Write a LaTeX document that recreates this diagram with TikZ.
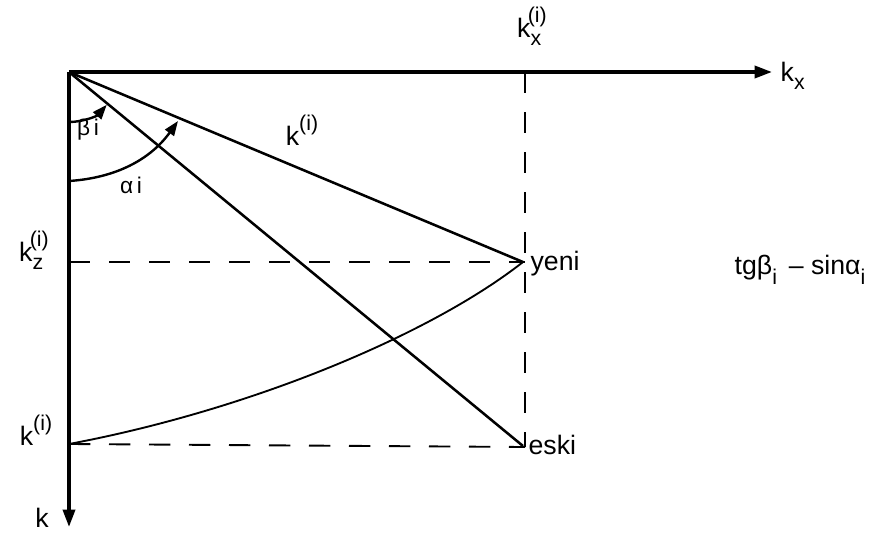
\documentclass[tikz,border=0pt]{standalone}
\usepackage{fontspec}
\setmainfont{Liberation Sans}
\usetikzlibrary{arrows.meta,calc}
\newcommand{\scr}[1]{{\fontsize{16}{16}\selectfont #1}}
\newcommand{\subsup}[3]{#1\raisebox{-6pt}{\scr{#2}}\hspace{-0.5em}\raisebox{11pt}{\scr{#3}}}
\begin{document}
\begin{tikzpicture}[x=0.75pt,y=-0.75pt,
  axis/.style={line width=2.6pt},
  ray/.style={line width=1.9pt},
  dsh/.style={line width=1.4pt, dash pattern=on 16pt off 14pt},
  lbl/.style={font=\fontsize{20}{22}\selectfont, inner sep=1pt},
  tip/.style={-{Triangle[length=13pt,width=9pt]}},
  atip/.style={line width=1.8pt,-{Triangle[length=11pt,width=8pt]}}]
\useasboundingbox (0,0) rectangle (889,532);
\coordinate (O) at (69,72);
\coordinate (X) at (772,72);
\coordinate (K) at (69,527);
\coordinate (T) at (525,72);
\coordinate (Y) at (523,262);
\coordinate (E) at (523,446);
\coordinate (KZ) at (69,262);
\coordinate (KI) at (69,444);
\coordinate (YD) at (525,262);
\coordinate (ED) at (525,447);
\coordinate (B0) at (69,122);
\coordinate (A0) at (69,181);
\coordinate (A1) at (178,121);
% axes
\draw[axis,tip] (O) -- (X);
\draw[axis,tip] (O) -- (K);
% dashed
\draw[dsh] (T) -- (ED);
\draw[dsh] (KZ) -- (YD);
\draw[dsh] (KI) -- (ED);
% rays
\draw[ray] (O) -- (Y);
\draw[ray] (O) -- (E);
% curve
\draw[line width=1.4pt] (KI) .. controls (250,410) and (430,335) .. (Y);
% angle arcs
\draw[atip] (B0) arc[start angle=90,end angle=41,radius=50];
\draw[atip] (A0) .. controls (115,178) and (150,160) .. (A1);
% labels
\node[lbl] (b) at (88,130) {\fontsize{17}{17}\selectfont β\,i};
\node[lbl] (a) at (131,185) {\fontsize{17}{17}\selectfont α\,i};
\node[lbl] (kl) at (302,130) {k\raisebox{11pt}{\scr{(i)}}};
\node[lbl] (kz) at (34,250) {\subsup{k}{z}{(i)}};
\node[lbl] (ki) at (36,430) {k\raisebox{11pt}{\scr{(i)}}};
\node[lbl] (kx) at (532,26) {\subsup{k}{x}{(i)}};
\node[lbl] (kxa) at (786,76) {\subsup{k}{x}{}};
\node[lbl] (kk) at (42,518) {k};
\node[lbl,anchor=west] (yeni) at (529,264) {yeni};
\node[lbl,anchor=west] (eski) at (527,445) {eski};
\node[lbl] (f) at (800,270) {tgβ\raisebox{-8pt}{\scr{i}}\ \,–\ sinα\raisebox{-8pt}{\scr{i}}};
\end{tikzpicture}
\end{document}
